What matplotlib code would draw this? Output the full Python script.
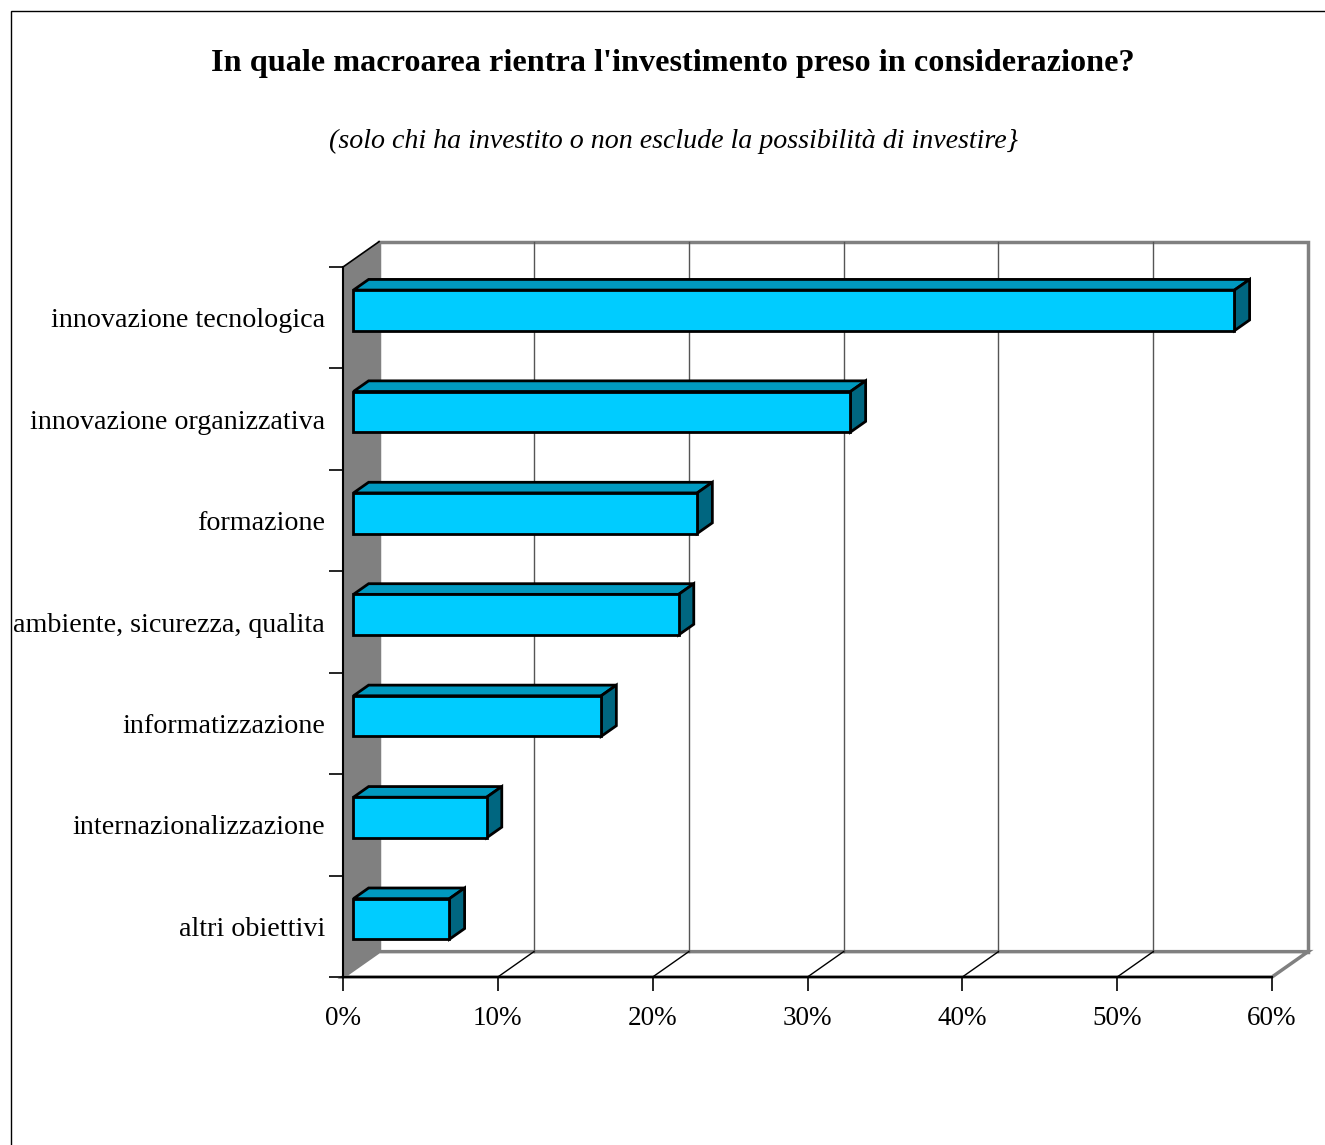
import matplotlib.pyplot as plt
from matplotlib.patches import Polygon, Rectangle

plt.rcParams['font.family'] = ['Liberation Serif', 'DejaVu Serif']

# categories from bottom to top, as they appear on the chart
categories = ['altri obiettivi', 'internazionalizzazione', 'informatizzazione',
              'ambiente, sicurezza, qualita', 'formazione',
              'innovazione organizzativa', 'innovazione tecnologica']
values = [6.2, 8.6, 16.0, 21.0, 22.2, 32.1, 56.9]
xticks = [0, 10, 20, 30, 40, 50, 60]
xlabels = ['0%', '10%', '20%', '30%', '40%', '50%', '60%']

title = "In quale macroarea rientra l'investimento preso in considerazione?"
subtitle = "(solo chi ha investito o non esclude la possibilità di investire}"

# 3D look: depth of the plot box in data units, and where bars sit in it
DX = 2.33
DY = 0.25
FRONT = 0.29
BACK = 0.71
BAR_H = 0.40

FRONT_COL = '#00CCFF'
TOP_COL = '#0099C0'
SIDE_COL = '#006680'
WALL_GREY = '#808080'

W, H = 1325, 1145
fig = plt.figure(figsize=(W / 100, H / 100), dpi=100)
ax = fig.add_axes([343 / W, 168 / H, 929 / W, 710 / H])
xmax = xticks[-1]
ylo, yhi = -0.5, len(categories) - 0.5
ax.set_xlim(0, xmax)
ax.set_ylim(ylo, yhi)
ax.patch.set_visible(False)

# side wall (grey)
ax.add_patch(Polygon([(0, ylo), (0, yhi), (DX, yhi + DY), (DX, ylo + DY)],
                     closed=True, facecolor=WALL_GREY, edgecolor='none',
                     zorder=1, clip_on=False))
# back wall
ax.add_patch(Rectangle((DX, ylo + DY), xmax, yhi - ylo, facecolor='white',
                       edgecolor=WALL_GREY, lw=2.5, zorder=1, clip_on=False))
# floor
ax.add_patch(Polygon([(0, ylo), (xmax, ylo), (xmax + DX, ylo + DY), (DX, ylo + DY)],
                     closed=True, facecolor='white', edgecolor=WALL_GREY, lw=2.5,
                     zorder=1, clip_on=False))
ax.plot([0, DX], [yhi, yhi + DY], color='black', lw=1.2, zorder=2, clip_on=False)

# gridlines on the back wall and on the floor
for t in xticks[1:-1]:
    ax.plot([t + DX, t + DX], [ylo + DY, yhi + DY], color='#555555', lw=1.0,
            zorder=2, clip_on=False)
    ax.plot([t, t + DX], [ylo, ylo + DY], color='black', lw=1.0,
            zorder=2, clip_on=False)

# bars: front face, top face, right face
fx, fy = FRONT * DX, FRONT * DY
bx, by = BACK * DX, BACK * DY
for i, v in enumerate(values):
    y0 = i - BAR_H / 2
    y1 = i + BAR_H / 2
    ax.add_patch(Polygon([(fx, y1 + fy), (v + fx, y1 + fy), (v + bx, y1 + by), (bx, y1 + by)],
                         closed=True, facecolor=TOP_COL, edgecolor='black', lw=2,
                         joinstyle='miter', zorder=3, clip_on=False))
    ax.add_patch(Polygon([(v + fx, y0 + fy), (v + fx, y1 + fy), (v + bx, y1 + by), (v + bx, y0 + by)],
                         closed=True, facecolor=SIDE_COL, edgecolor='black', lw=2,
                         joinstyle='miter', zorder=3, clip_on=False))
    ax.add_patch(Rectangle((fx, y0 + fy), v, BAR_H, facecolor=FRONT_COL,
                           edgecolor='black', lw=2, zorder=4, clip_on=False))

# axes
for s in ['top', 'right']:
    ax.spines[s].set_visible(False)
for s in ['left', 'bottom']:
    ax.spines[s].set_color('black')
    ax.spines[s].set_linewidth(1.5)
    ax.spines[s].set_zorder(5)

ax.set_xticks(xticks)
ax.set_xticklabels(xlabels, fontsize=19.5)
ax.tick_params(axis='x', direction='out', length=10, width=1.2, pad=11)

ax.set_yticks([k - 0.5 for k in range(len(categories) + 1)])
ax.set_yticklabels([])
ax.set_yticks(range(len(categories)), minor=True)
ax.set_yticklabels(categories, minor=True, fontsize=20.2)
ax.tick_params(axis='y', which='major', direction='out', length=10, width=1.2)
ax.tick_params(axis='y', which='minor', length=0, pad=13)

fig.text(673 / W, 1 - 63 / H, title, ha='center', va='center',
         fontsize=23.2, fontweight='bold')
fig.text(673 / W, 1 - 141 / H, subtitle, ha='center', va='center',
         fontsize=20.2, fontstyle='italic')

# outer chart border
fig.add_artist(Rectangle((11 / W, -0.1), 1.2, 1.1 - 11 / H, transform=fig.transFigure,
                         facecolor='none', edgecolor='black', lw=1.0))

fig.savefig('out.png', dpi=100)
